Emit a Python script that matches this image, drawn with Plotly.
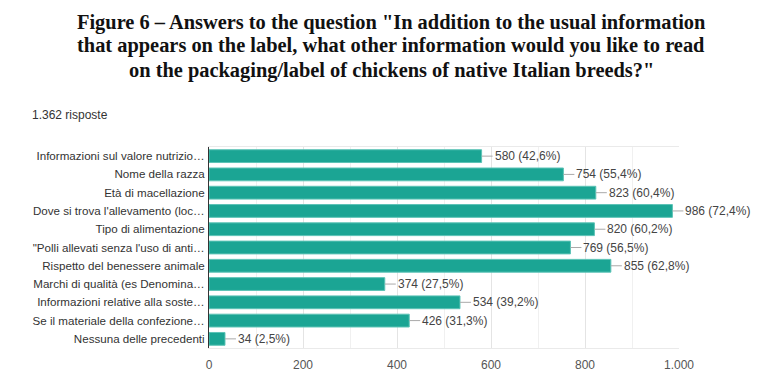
import plotly.graph_objects as go

categories = [
    "Informazioni sul valore nutrizio…",
    "Nome della razza",
    "Età di macellazione",
    "Dove si trova l'allevamento (loc…",
    "Tipo di alimentazione",
    "\"Polli allevati senza l'uso di anti…",
    "Rispetto del benessere animale",
    "Marchi di qualità (es Denomina…",
    "Informazioni relative alla soste…",
    "Se il materiale della confezione…",
    "Nessuna delle precedenti",
]
values = [580, 754, 823, 986, 820, 769, 855, 374, 534, 426, 34]
percents = ["42,6", "55,4", "60,4", "72,4", "60,2", "56,5", "62,8", "27,5", "39,2", "31,3", "2,5"]
x_ticks = [0, 200, 400, 600, 800, 1000]
x_tick_labels = ["0", "200", "400", "600", "800", "1.000"]

title_lines = [
    "Figure 6 – Answers to the question \"In addition to the usual information",
    "that appears on the label, what other information would you like to read",
    "on the packaging/label of chickens of native Italian breeds?\"",
]

bar_color = "#1BA594"
OFF = 8  # page body margin
W, H = 782, 380
ML, MR, MT, MB = 209 - OFF, 103 + OFF, 147 - OFF, 32 + OFF
plot_w = W - ML - MR
plot_h = H - MT - MB

fig = go.Figure(go.Bar(
    x=values, y=categories, orientation="h",
    marker=dict(color=bar_color, line=dict(color="#5cc3b6", width=1)),
    hoverinfo="skip",
))

for c, v, p in zip(categories, values, percents):
    fig.add_annotation(
        x=v, y=c, xref="x", yref="y",
        text=f"{v} ({p}%)",
        showarrow=True, arrowhead=0, arrowwidth=1, arrowcolor="#aaaaaa",
        ax=11, ay=0, axref="pixel", ayref="pixel",
        xanchor="left", standoff=0, startstandoff=0,
        font=dict(family="Liberation Sans, Arial, sans-serif", size=12, color="#444444"),
    )

# title lines (centred on the page)
title_cx = (391 - OFF - ML) / plot_w
for i, line in enumerate(title_lines):
    y_px = 22 + 24 * i - OFF
    fig.add_annotation(
        x=title_cx, y=1 + (MT - y_px) / plot_h, xref="paper", yref="paper",
        xanchor="center", yanchor="middle",
        text=f"<b>{line}</b>", showarrow=False,
        font=dict(family="Liberation Serif, Times New Roman, serif", size=20.4, color="#111111"),
    )

fig.add_annotation(
    x=(30 - OFF - ML) / plot_w, y=1 + (MT - (115 - OFF)) / plot_h, xref="paper", yref="paper",
    xanchor="left", yanchor="middle",
    text="1.362 risposte", showarrow=False,
    font=dict(family="Liberation Sans, Arial, sans-serif", size=12, color="#333333"),
)

fig.update_layout(
    width=W, height=H,
    margin=dict(l=ML, r=MR, t=MT, b=MB, autoexpand=False),
    paper_bgcolor="white", plot_bgcolor="white",
    bargap=0.3, showlegend=False,
    separators=",.",
    font=dict(family="Liberation Sans, Arial, sans-serif", size=12, color="#333333"),
)

fig.update_xaxes(
    range=[0, 1000], tickvals=x_ticks, ticktext=x_tick_labels,
    showgrid=True, gridcolor="#e4e4e4", gridwidth=1,
    minor=dict(dtick=100, showgrid=True, gridcolor="#f0f0f0"),
    showline=True, mirror=True, linecolor="#eaeaea",
    zeroline=False, ticks="", ticklen=0, automargin=False,
    ticklabelstandoff=6,
    tickfont=dict(size=12, color="#555555"),
)
fig.update_yaxes(
    autorange="reversed", showgrid=False,
    showline=True, linecolor="#333333", linewidth=1,
    ticks="", ticklabelstandoff=1, automargin=False,
    tickfont=dict(size=11.6, color="#333333"),
)

fig.write_html("out.html")
